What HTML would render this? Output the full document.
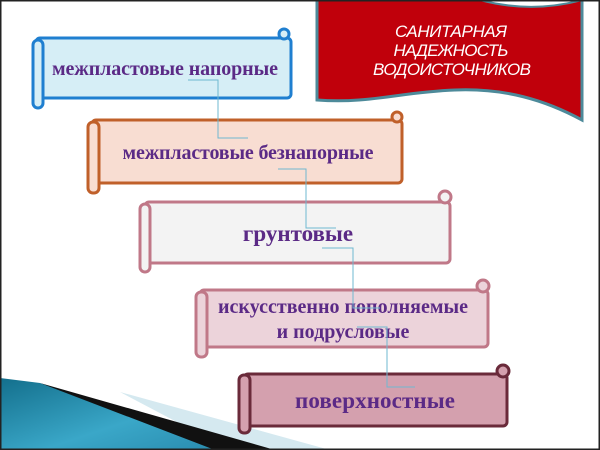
<!DOCTYPE html>
<html><head><meta charset="utf-8"><style>
html,body{margin:0;padding:0;background:#fff;}
svg{display:block}
text{font-family:"Liberation Serif",serif;font-weight:bold;fill:#5b2a86;text-anchor:middle}
.w{fill:#fff;font-family:"Liberation Sans",sans-serif;font-weight:normal;font-style:italic}
</style></head><body>
<svg width="600" height="450" viewBox="0 0 600 450" xmlns="http://www.w3.org/2000/svg">
<defs>
<linearGradient id="tg" x1="0" y1="0" x2="1" y2="1">
<stop offset="0" stop-color="#136f8c"/><stop offset="0.6" stop-color="#3aa7c8"/><stop offset="1" stop-color="#2a8db0"/>
</linearGradient>
</defs>
<rect x="0" y="0" width="600" height="450" fill="#fff"/>
<!-- bottom swoosh -->
<polygon points="120,392 330,450 230,450" fill="#d5e9f0"/>
<polygon points="40,383 275,450 195,450" fill="#111"/>
<polygon points="0,378 40,383 215,450 0,450" fill="url(#tg)"/>
<!-- red banner -->
<path d="M317,0 L582,0 L582,120 C545,100 505,88 455,90 C400,92 370,104 317,100 Z" fill="#c0000b" stroke="#4d8a9a" stroke-width="3"/>
<path d="M480,0 C510,8 545,10 582,0 Z" fill="#fff" stroke="#4d8a9a" stroke-width="2"/>
<text x="451" y="37" font-size="17" class="w" textLength="112">САНИТАРНАЯ</text>
<text x="451" y="56" font-size="17" class="w" textLength="115">НАДЕЖНОСТЬ</text>
<text x="452" y="75" font-size="17" class="w" textLength="158">ВОДОИСТОЧНИКОВ</text>

<!-- scroll 1 -->
<g stroke="#1f7fd0" stroke-width="3" fill="#d6eef6">
<rect x="36" y="38" width="255" height="60" rx="4"/>
<rect x="33" y="40" width="10" height="68" rx="5"/>
<circle cx="284" cy="34" r="5"/>
</g>
<text x="165" y="75" font-size="20" textLength="226">межпластовые напорные</text>

<!-- scroll 2 -->
<g stroke="#c0602a" stroke-width="3" fill="#f8ddd2">
<rect x="92" y="120" width="310" height="63" rx="4"/>
<rect x="88" y="122" width="11" height="71" rx="5"/>
<circle cx="397" cy="117" r="5"/>
</g>
<text x="248" y="159" font-size="20" textLength="251">межпластовые безнапорные</text>

<!-- scroll 3 -->
<g stroke="#c07888" stroke-width="3" fill="#f3f3f3">
<rect x="145" y="202" width="305" height="61" rx="4"/>
<rect x="140" y="204" width="10" height="68" rx="5"/>
<circle cx="445" cy="197" r="6"/>
</g>
<text x="298" y="241" font-size="23">грунтовые</text>

<!-- scroll 4 -->
<g stroke="#c07888" stroke-width="3" fill="#ecd3da">
<rect x="200" y="290" width="288" height="57" rx="4"/>
<rect x="196" y="292" width="11" height="65" rx="5"/>
<circle cx="483" cy="286" r="6"/>
</g>
<text x="343" y="313" font-size="20" textLength="250">искусственно пополняемые</text>
<text x="343" y="338" font-size="20">и подрусловые</text>

<!-- scroll 5 -->
<g stroke="#6a2a3a" stroke-width="3" fill="#d4a0ae">
<rect x="244" y="374" width="263" height="52" rx="4"/>
<rect x="239" y="375" width="11" height="58" rx="5"/>
<circle cx="503" cy="371" r="6"/>
</g>
<text x="375" y="408" font-size="23" textLength="160">поверхностные</text>

<!-- connectors -->
<g stroke="#6fb8d0" stroke-width="1" fill="none">
<polyline points="188,80 218,80 218,138 248,138"/>
<polyline points="278,169 306,169 306,228 336,228"/>
<polyline points="322,248 353,248 353,308 380,308"/>
<polyline points="357,327 387,327 387,387 415,387"/>
</g>
<rect x="0.5" y="0.5" width="599" height="449" fill="none" stroke="#222" stroke-width="2"/>
</svg>
</body></html>
